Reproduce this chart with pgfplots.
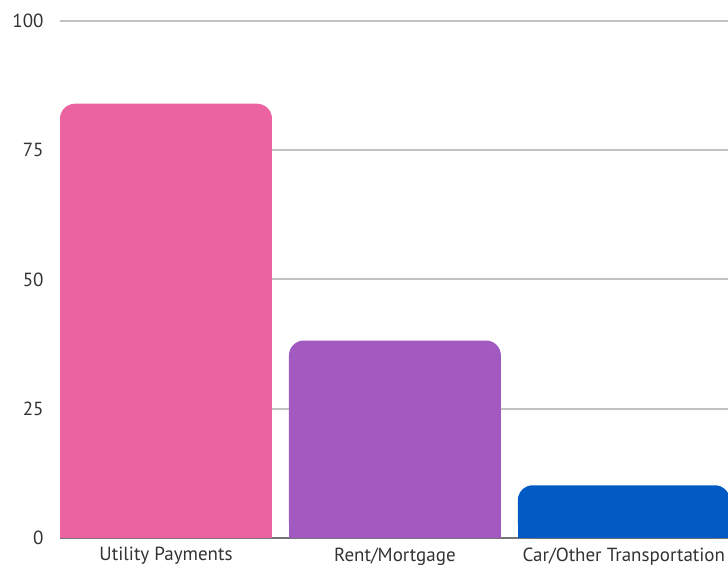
\documentclass[border=0pt]{standalone}
\usepackage{fontspec}
\setmainfont{PT Sans}
\usepackage{pgfplots}
\pgfplotsset{compat=1.18}
\definecolor{cpink}{HTML}{EB64A1}
\definecolor{cpurple}{HTML}{A35AC0}
\definecolor{cblue}{HTML}{025BC5}
\definecolor{cgrid}{HTML}{C2C2C2}
\definecolor{cbase}{HTML}{757575}
\definecolor{ctext}{HTML}{333333}
\begin{document}
\begin{tikzpicture}
\begin{axis}[
  scale only axis,
  width=668pt, height=517pt,
  xmin=-0.463, xmax=2.455,
  ymin=0, ymax=100,
  ybar, bar width=0.926, bar shift=0pt,
  axis line style={draw=none},
  major tick length=0pt,
  xtick={0,1,2},
  xticklabels={Utility Payments, Rent/Mortgage, Car/Other Transportation},
  ytick={25,50,75,100},
  extra y ticks={0},
  extra y tick style={grid style={draw=cbase, line width=2pt}},
  ymajorgrids,
  grid style={draw=cgrid, line width=2pt},
  tick label style={font=\fontsize{19}{22}\selectfont, text=ctext},
  /pgf/number format/assume math mode=true,
  yticklabel style={anchor=east, xshift=-13pt},
  xticklabel style={anchor=north, yshift=-6pt},
  clip=false,
]
\addplot[fill=cpink, draw=none, rounded corners=15pt] coordinates {(0,84)};
\addplot[fill=cpink, draw=none] coordinates {(0,80)};
\addplot[fill=cpurple, draw=none, rounded corners=15pt] coordinates {(1,38.2)};
\addplot[fill=cpurple, draw=none] coordinates {(1,34)};
\addplot[fill=cblue, draw=none, rounded corners=15pt] coordinates {(2,10.2)};
\addplot[fill=cblue, draw=none] coordinates {(2,6)};
\coordinate (bl) at (rel axis cs:0,0);
\coordinate (tr) at (rel axis cs:1,1);
\end{axis}
\pgfresetboundingbox
\path ([xshift=-60pt,yshift=-30pt]bl) rectangle ([yshift=21pt]tr);
\end{tikzpicture}
\end{document}
